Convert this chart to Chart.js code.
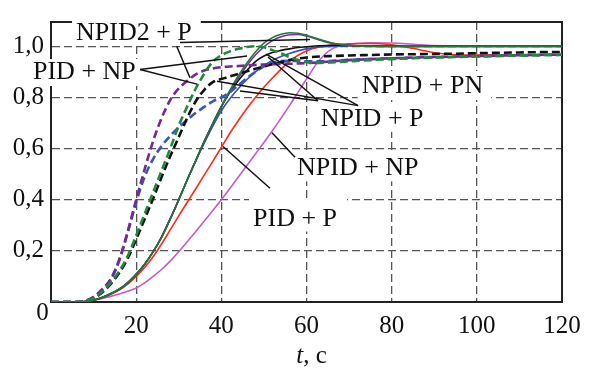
<!DOCTYPE html>
<html><head><meta charset="utf-8">
<script src="https://cdn.jsdelivr.net/npm/chart.js@4/dist/chart.umd.min.js"></script>
<style>html,body{margin:0;padding:0;background:#fff;}#wrap{position:relative;width:590px;height:372px;}</style>
</head><body><div id="wrap"><canvas id="c" width="590" height="372"></canvas></div>
<script>
// time, s
const T = [0,6,8,10,12,14,16,18,20,22,24,26,28,30,32,34,36,38,40,42,44,46,48,50,52,54,56,58,60,63,66,70,75,80,85,90,95,100,110,120];
// dashed curves
const purpleDashed = [0,0,0.005,0.02,0.05,0.09,0.165,0.275,0.40,0.52,0.63,0.72,0.79,0.835,0.865,0.89,0.905,0.913,0.918,0.921,0.923,0.925,0.927,0.929,0.93,0.931,0.932,0.933,0.934,0.937,0.941,0.946,0.95,0.953,0.956,0.958,0.96,0.962,0.965,0.968];
const blueDashed   = [0,0,0.004,0.018,0.045,0.085,0.16,0.27,0.39,0.49,0.56,0.61,0.65,0.683,0.712,0.74,0.763,0.785,0.80,0.82,0.848,0.875,0.9,0.922,0.936,0.942,0.943,0.942,0.941,0.941,0.943,0.947,0.95,0.953,0.955,0.957,0.959,0.961,0.964,0.967];
const greenDashed  = [0,0,0.003,0.015,0.04,0.075,0.12,0.18,0.26,0.345,0.43,0.515,0.6,0.69,0.765,0.835,0.893,0.94,0.965,0.98,0.99,0.997,1.0,0.996,0.985,0.972,0.958,0.946,0.938,0.935,0.937,0.941,0.946,0.95,0.953,0.956,0.958,0.96,0.964,0.967];
const blackDashed  = [0,0,0.003,0.014,0.037,0.07,0.113,0.17,0.245,0.325,0.405,0.49,0.57,0.645,0.72,0.785,0.83,0.86,0.872,0.882,0.892,0.902,0.912,0.921,0.93,0.938,0.946,0.952,0.956,0.96,0.962,0.964,0.966,0.968,0.969,0.97,0.971,0.973,0.976,0.978];
// solid curves
const greenSolid   = [0,0,0.002,0.008,0.018,0.032,0.05,0.075,0.108,0.148,0.197,0.255,0.325,0.4,0.478,0.553,0.628,0.698,0.765,0.828,0.885,0.935,0.978,1.012,1.034,1.047,1.053,1.051,1.043,1.027,1.013,1.003,0.999,0.998,0.998,0.998,0.998,0.998,0.998,0.998];
const purpleSolid  = [0,0,0.002,0.008,0.018,0.032,0.05,0.075,0.108,0.148,0.197,0.255,0.325,0.4,0.478,0.553,0.628,0.698,0.765,0.822,0.876,0.925,0.966,0.998,1.022,1.037,1.045,1.046,1.04,1.025,1.012,1.004,1.001,1.0,1.0,1.0,1.0,1.0,1.0,1.0];
const blackSolid   = [0,0,0.002,0.008,0.018,0.032,0.05,0.075,0.108,0.148,0.197,0.255,0.325,0.4,0.478,0.553,0.628,0.698,0.763,0.82,0.866,0.905,0.94,0.962,0.976,0.984,0.99,0.995,0.998,1.002,1.004,1.003,1.001,1.0,1.0,1.0,1.0,1.0,1.0,1.0];
const blueSolid    = [0,0,0.002,0.008,0.018,0.032,0.05,0.075,0.108,0.148,0.197,0.255,0.325,0.4,0.478,0.553,0.622,0.688,0.748,0.795,0.835,0.87,0.9,0.925,0.945,0.96,0.972,0.982,0.99,0.997,1.0,1.002,1.002,1.001,1.0,1.0,1.0,1.0,1.0,1.0];
const redSolid     = [0,0,0.002,0.007,0.016,0.03,0.047,0.07,0.1,0.135,0.178,0.228,0.282,0.337,0.39,0.443,0.497,0.55,0.605,0.66,0.71,0.757,0.8,0.84,0.876,0.91,0.94,0.965,0.982,0.997,1.005,1.01,1.011,1.006,0.992,0.975,0.967,0.966,0.966,0.966];
const magentaSolid = [0,0,0.002,0.007,0.014,0.022,0.031,0.042,0.055,0.075,0.1,0.128,0.16,0.197,0.236,0.276,0.317,0.358,0.4,0.444,0.489,0.534,0.579,0.624,0.67,0.718,0.768,0.82,0.872,0.945,0.99,1.008,1.014,1.013,1.008,1.003,1.001,1.0,1.0,1.0];

const xTicks = [0,20,40,60,80,100,120];
const yTicks = [0,0.2,0.4,0.6,0.8,1.0];
const xLabel = ['t', ', c'];
const originLabel = '0';

// annotation texts (anchor: left, baseline in data units)
const noteTexts = ['NPID2 + P','PID + NP','NPID + PN','NPID + P','NPID + NP','PID + P'];
const noteT = [5.87,-4.23,72.96,63.34,57.77,47.44];
const noteV = [1.023,0.872,0.817,0.689,0.495,0.299];
const notePad = [[4,26,9,4],[3,20,4,7],[4,22,8,7],[4,22,6,6],[4,22,6,6],[4,27,10,6]];
// leader lines [t1,v1,t2,v2]
const leaders = [
 [30.29,1.015,60.82,1.027],
 [29.52,1.0,32.64,0.877],
 [20.9,0.909,46.03,0.962],
 [20.9,0.909,34.29,0.852],
 [72.1,0.768,50.49,0.969],
 [72.1,0.768,38.98,0.863],
 [62.7,0.787,44.38,0.825],
 [62.7,0.787,50.96,0.958],
 [40.39,0.608,51.43,0.445],
 [51.9,0.662,57.3,0.566]
];

const FONT = "'Liberation Serif','Times New Roman',serif";
const pts = arr => T.map((t,i)=>({x:t,y:arr[i]}));
const solid = (data,color)=>({data:pts(data),borderColor:color,borderWidth:1.6,pointRadius:0,fill:false,cubicInterpolationMode:'monotone'});
const dashed = (data,color)=>({data:pts(data),borderColor:color,borderWidth:2.6,borderDash:[8,4],pointRadius:0,fill:false,cubicInterpolationMode:'monotone'});

const deco = {
  id:'deco',
  beforeDatasetsDraw(chart){
    const {ctx, chartArea:a, scales:{x,y}} = chart;
    ctx.save();
    ctx.setLineDash([]);
    ctx.strokeStyle='#222'; ctx.lineWidth=2;
    ctx.beginPath(); ctx.moveTo(a.left-1,a.top); ctx.lineTo(a.right,a.top); ctx.lineTo(a.right,a.bottom+1); ctx.stroke();
    ctx.font = '26px '+FONT; ctx.textBaseline='alphabetic'; ctx.textAlign='left';
    noteTexts.forEach((s,i)=>{
      const px=x.getPixelForValue(noteT[i]), py=y.getPixelForValue(noteV[i]);
      const w=ctx.measureText(s).width, p=notePad[i];
      ctx.fillStyle='#fff';
      ctx.fillRect(px-p[0], py-p[1], w+p[0]+p[2], p[1]+p[3]);
      ctx.fillStyle='#111';
      ctx.fillText(s, px, py);
    });
    ctx.restore();
  },
  afterDatasetsDraw(chart){
    const {ctx, scales:{x,y}} = chart;
    ctx.save();
    ctx.strokeStyle='#111'; ctx.lineWidth=1.5; ctx.setLineDash([]);
    leaders.forEach(l=>{
      ctx.beginPath();
      ctx.moveTo(x.getPixelForValue(l[0]), y.getPixelForValue(l[1]));
      ctx.lineTo(x.getPixelForValue(l[2]), y.getPixelForValue(l[3]));
      ctx.stroke();
    });
    ctx.restore();
  },
  afterDraw(chart){
    const {ctx, chartArea:a} = chart;
    ctx.save();
    ctx.fillStyle='#111'; ctx.textBaseline='alphabetic';
    ctx.font='25px '+FONT; ctx.textAlign='center';
    ctx.fillText(originLabel, a.left-8.5, a.bottom+18);
    ctx.textAlign='left';
    ctx.font='italic 25px '+FONT;
    const w1 = ctx.measureText(xLabel[0]).width;
    ctx.font='25px '+FONT;
    const w2 = ctx.measureText(xLabel[1]).width;
    const x0 = (a.left+a.right)/2 + 5 - (w1+w2)/2;
    ctx.font='italic 25px '+FONT;
    ctx.fillText(xLabel[0], x0, 363);
    ctx.font='25px '+FONT;
    ctx.fillText(xLabel[1], x0+w1, 363);
    ctx.restore();
  }
};

new Chart(document.getElementById('c'), {
  type:'line',
  data:{datasets:[
    dashed(greenDashed,'#1f8a3e'),
    solid(greenSolid,'#1d7a36'),
    dashed(purpleDashed,'#742a93'),
    dashed(blackDashed,'#111111'),
    dashed(blueDashed,'#3a56b8'),
    solid(purpleSolid,'#7a2f95'),
    solid(blackSolid,'#111111'),
    solid(blueSolid,'#3550c0'),
    solid(redSolid,'#ff2a1a'),
    solid(magentaSolid,'#c55ac8')
  ]},
  options:{
    responsive:false, animation:false, devicePixelRatio:1,
    layout:{padding:{top:14,right:28,left:0,bottom:0}},
    plugins:{legend:{display:false},tooltip:{enabled:false}},
    scales:{
      x:{type:'linear',min:0,max:120,
        afterBuildTicks:s=>{s.ticks=xTicks.map(v=>({value:v}));},
        afterFit:s=>{s.height=70;},
        ticks:{callback:v=>v===0?'':String(v),font:{family:FONT,size:25},color:'#111',padding:9,maxRotation:0,autoSkip:false},
        grid:{drawTicks:false,lineWidth:1.3,color:c=>(c.tick&&(c.tick.value===0||c.tick.value===120))?'rgba(0,0,0,0)':'#555'},
        border:{display:true,color:'#222',width:2,dash:[8,4]}
      },
      y:{type:'linear',min:0,max:1.095,
        afterBuildTicks:s=>{s.ticks=yTicks.map(v=>({value:v}));},
        afterFit:s=>{s.width=51;},
        ticks:{callback:v=>v===0?'':v.toFixed(1).replace('.',','),font:{family:FONT,size:25},color:'#111',padding:7},
        grid:{drawTicks:false,lineWidth:1.3,color:c=>(c.tick&&c.tick.value===0)?'rgba(0,0,0,0)':'#555'},
        border:{display:true,color:'#222',width:2,dash:[8,4]}
      }
    }
  },
  plugins:[deco]
});
</script></body></html>
